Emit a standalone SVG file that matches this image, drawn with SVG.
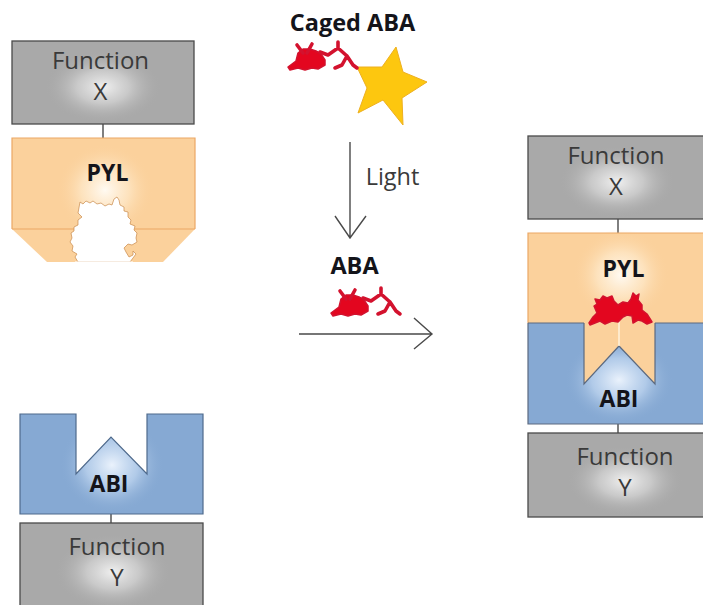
<svg xmlns="http://www.w3.org/2000/svg" width="703" height="605" viewBox="0 0 703 605">
<style>
text{font-family:"Open Sans","Noto Sans","Liberation Sans",sans-serif;text-anchor:middle}
.fn{font-size:24px;fill:#3a3a3a}
.lb{font-size:23px;font-weight:700;fill:#14141a}
.box{fill:#a9a9a9;stroke:#4a4a4a;stroke-width:1.3}
.glow{fill:url(#glowGrey)}
.pyl{fill:#fbd19c}
.abi{fill:#86a9d3}
.pyl-edge{fill:none;stroke:#eba765;stroke-width:1.2}
.abi-edge{fill:none;stroke:#4f6a8c;stroke-width:1.2}
.line{fill:none;stroke:#4a4a4a;stroke-width:1.4}
.bond{fill:none;stroke:#d3122e;stroke-width:3.6;stroke-linecap:round;stroke-linejoin:round}
.body{fill:#e3061f;stroke:#d3122e;stroke-width:1.5;stroke-linejoin:round}
</style>
<defs>
<radialGradient id="glowGrey"><stop offset="0" stop-color="#f0f0f0"/><stop offset="0.45" stop-color="#d4d4d4" stop-opacity=".75"/><stop offset="1" stop-color="#a9a9a9" stop-opacity="0"/></radialGradient>
<radialGradient id="glowPyl"><stop offset="0" stop-color="#fffaf2"/><stop offset="0.5" stop-color="#fee8c8" stop-opacity=".75"/><stop offset="1" stop-color="#fbd19c" stop-opacity="0"/></radialGradient>
<radialGradient id="glowAbi"><stop offset="0" stop-color="#eaf2fc"/><stop offset="0.5" stop-color="#bcd3ee" stop-opacity=".8"/><stop offset="1" stop-color="#86a9d3" stop-opacity="0"/></radialGradient>
<g id="abaCore">
<path class="body" d="M288 67L296 61 298 53 303 49 310 49 316 51 321 54 325 60 325 65 318 69 312 68 305 70 298 68 290 70Z"/>
<path class="bond" d="M297 45L303 53M312 44L307 53M320 52L328 55 338 48 338 42M338 48L347 56 342 65 335 68M347 56L353 65 357 68"/>
</g>
</defs>

<g id="connectors">
<path class="line" d="M103 124V138M111 514V523M618 219V233M618 424V433"/>
<path class="line" d="M350 142V238M335 216L350 238 366 216"/>
<path class="line" d="M299 334H432M414 318L432 334 414 349"/>
</g>

<g id="function-x-left">
<rect class="box" x="12" y="41" width="182" height="83"/>
<ellipse class="glow" cx="103" cy="87" rx="58" ry="36"/>
<text class="fn" x="100.500" y="69">Function</text>
<text class="fn" x="100.500" y="100">X</text>
</g>

<g id="pyl-free">
<path class="pyl" d="M12 138H195V229L163 262H47L12 229Z"/>
<ellipse cx="105" cy="190" rx="48" ry="46" fill="url(#glowPyl)"/>
<path class="pyl-edge" d="M12 229V138H195V229M12 229H195"/>
<path d="M80 202L83 204 86 201 90 203 93 201 97 204 101 203 105 206 109 204 112 205 114 199 117 197 119 200 120 205 124 207 124 211 128 212 128 217 131 220 130 224 135 226 134 230 137 233 136 238 137 242 132 245 128 244 124 248 126 252 129 257 133 255 133 251 136 254 130 262H78L75 257 77 254 72 251 73 246 70 242 72 238 71 233 74 231 74 227 78 225 78 220 82 217 78 213Z" fill="#fff" stroke="#c8894a" stroke-width=".7"/>
<path d="M75 262.500H133" stroke="#fff" stroke-width="2"/>
<text class="lb" x="107.500" y="181">PYL</text>
</g>

<g id="abi-free">
<rect class="abi" x="20" y="414" width="183" height="100"/>
<ellipse cx="112" cy="465" rx="52" ry="48" fill="url(#glowAbi)"/>
<path d="M76 413H147V474L111 437 76 474Z" fill="#fff"/>
<path class="abi-edge" d="M76 414V474L111 437 147 474V414H203V514H20V414Z"/>
<text class="lb" x="109" y="492">ABI</text>
</g>

<g id="function-y-left">
<rect class="box" x="20" y="523" width="183" height="90"/>
<ellipse class="glow" cx="113" cy="572" rx="58" ry="38"/>
<text class="fn" x="117" y="555">Function</text>
<text class="fn" x="117" y="586">Y</text>
</g>

<g id="caged-aba">
<text class="lb" x="352.500" y="31" style="font-size:23.500px">Caged ABA</text>
<path d="M396 47L403 72 427 82 402 98 403 125 383 100 358 113 367 88 357 67 382 67Z" fill="#fdc70f" stroke="#eeb020" stroke-width="1"/>
<use href="#abaCore"/>
</g>

<g id="aba">
<text class="lb" x="354.500" y="274" style="font-size:23.500px">ABA</text>
<use href="#abaCore" x="43" y="246"/>
</g>

<g id="function-x-right">
<rect class="box" x="528" y="136" width="182" height="83"/>
<ellipse class="glow" cx="617" cy="182" rx="58" ry="36"/>
<text class="fn" x="616" y="164">Function</text>
<text class="fn" x="616" y="195">X</text>
</g>

<g id="complex">
<rect class="pyl" x="528" y="233" width="182" height="90"/>
<ellipse cx="621" cy="275" rx="48" ry="46" fill="url(#glowPyl)"/>
<path class="pyl-edge" d="M528 323V233H703"/>
<rect class="abi" x="528" y="323" width="182" height="101"/>
<ellipse cx="619" cy="380" rx="54" ry="44" fill="url(#glowAbi)"/>
<path class="pyl" d="M584 323H655V384L619 346 584 384Z"/>
<path d="M584 323V384L619 346 655 384V323M528 323H584M655 323H703M528 323V424H703" fill="none" stroke="#5c6a80" stroke-width="1.2"/>
<path d="M619 322V346" stroke="#fff2dc" stroke-width="1.5"/>
<path class="body" d="M589 323L593 317 597 313 594 306 597 304 595 299 600 300 603 296 607 298 612 296 614 301 618 305 623 302 628 303 631 299 633 293 636 296 639 294 638 300 642 305 642 310 647 314 652 322 647 324 642 321 638 320 633 323 632 316 627 315 623 317 618 322 612 321 605 324 600 321 595 323 590 325Z"/>
<text class="lb" x="623.500" y="277">PYL</text>
<text class="lb" x="619" y="407">ABI</text>
</g>

<g id="function-y-right">
<rect class="box" x="528" y="433" width="182" height="84"/>
<ellipse class="glow" cx="625" cy="481" rx="58" ry="35"/>
<text class="fn" x="625" y="465">Function</text>
<text class="fn" x="625" y="496">Y</text>
</g>

<text style="font-size:23.500px;fill:#3a3a3a" x="392.500" y="185">Light</text>
</svg>
